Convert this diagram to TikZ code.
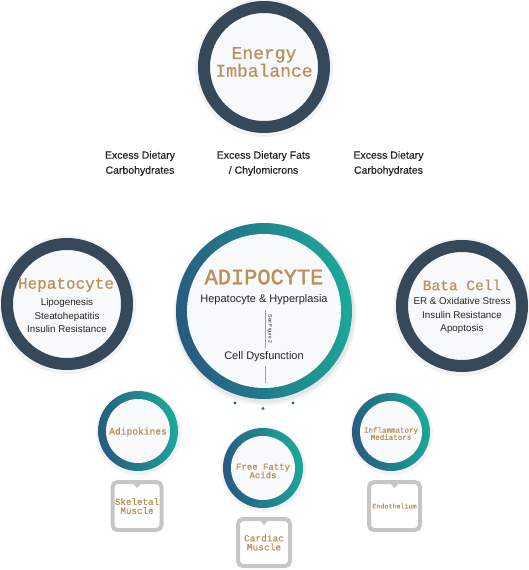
\documentclass[tikz,border=0pt]{standalone}
\usepackage{fontspec}
\setmainfont{Liberation Sans}
\newfontfamily\monof[FakeBold=0.6]{Liberation Mono}
\newfontfamily\monobf[FakeBold=1.6]{Liberation Mono}
\newfontfamily\sansmed[FakeBold=0.5]{Liberation Sans}
\definecolor{ringdark}{HTML}{36495A}
\definecolor{gold}{HTML}{B8905A}
\definecolor{gblue}{HTML}{285A80}
\definecolor{gteal}{HTML}{1BA99A}
\definecolor{innerc}{HTML}{F8F9FB}
\definecolor{txt}{HTML}{252525}
\definecolor{boxgray}{HTML}{C6C6C6}
\definecolor{dotc}{HTML}{2A6F8F}
\definecolor{linec}{HTML}{A0A0A0}
\tikzset{
  halo/.style={fill=black, opacity=0.05},
  darkring/.style={circle, draw=ringdark, line width=12pt, fill=innerc, inner sep=0pt},
  innerdisc/.style={circle, fill=innerc, inner sep=0pt},
  gold/.style={text=gold, align=center, inner sep=0pt},
  sanstxt/.style={text=txt, align=center, inner sep=0pt},
  callout/.style={draw=boxgray, line width=4pt, rounded corners=5pt, fill=white, inner sep=0pt, text=gold, align=center},
  pointer/.style={fill=boxgray}
}
\begin{document}
\begin{tikzpicture}[x=1pt,y=-1pt]
\useasboundingbox (0,0) rectangle (529,570);

% ---------- Energy Imbalance ----------
\fill[halo] (264,68) circle (69);
\node[darkring, minimum size=120pt] (energy) at (264,67) {};
\node[gold, font=\monof\fontsize{18}{15}\selectfont] (energytxt) at (264,62) {Energy\\Imbalance};

% ---------- Excess labels ----------
\node[sanstxt, font=\sansmed\fontsize{10.5}{15}\selectfont] (exL) at (140,163.5) {Excess Dietary\\Carbohydrates};
\node[sanstxt, font=\sansmed\fontsize{10.5}{15}\selectfont] (exM) at (263.5,163.5) {Excess Dietary Fats\\/ Chylomicrons};
\node[sanstxt, font=\sansmed\fontsize{10.5}{15}\selectfont] (exR) at (388.5,163.5) {Excess Dietary\\Carbohydrates};

% ---------- Hepatocyte ----------
\fill[halo] (67,305) circle (69);
\node[darkring, minimum size=120pt] (hepa) at (67,304) {};
\node[gold, font=\monof\fontsize{16}{16}\selectfont] (hepatitle) at (66,285) {Hepatocyte};
\node[sanstxt, font=\fontsize{9.8}{13.5}\selectfont] (hepatxt) at (67,315.5) {Lipogenesis\\Steatohepatitis\\Insulin Resistance};

% ---------- Bata Cell ----------
\fill[halo] (462,307) circle (69);
\node[darkring, minimum size=120pt] (bata) at (462,306) {};
\node[gold, font=\monof\fontsize{14.5}{15}\selectfont] (batatitle) at (462,285) {Bata Cell};
\node[sanstxt, font=\fontsize{9.8}{13.5}\selectfont] (batatxt) at (462,315.5) {ER \& Oxidative Stress\\Insulin Resistance\\Apoptosis};

% ---------- Adipocyte ----------
\fill[halo] (265,314) circle (91);
\fill[halo] (265,313) circle (89.5);
\shade[left color=gblue, right color=gteal, shading angle=100] (264,311) circle (88);
\node[innerdisc, minimum size=154pt] (adipo) at (264,311) {};
\node[gold, font=\monobf\fontsize{22}{22}\selectfont] (adipotitle) at (264,277) {ADIPOCYTE};
\node[sanstxt, font=\fontsize{11}{13}\selectfont] (adipo1) at (264,300) {Hepatocyte \& Hyperplasia};
\node[sanstxt, font=\fontsize{11}{13}\selectfont] (adipo2) at (264,357) {Cell Dysfunction};
\coordinate (l1a) at (265,310);
\coordinate (l1b) at (265,348);
\coordinate (l2a) at (265,366);
\coordinate (l2b) at (265,383);
\draw[linec, line width=0.5pt] (l1a) -- (l1b);
\draw[linec, line width=0.5pt] (l2a) -- (l2b);
\node[sanstxt, rotate=-90, font=\fontsize{5}{5}\selectfont] (seefig) at (270,329) {See Figure 2};
\fill[dotc] (235,403) circle (1.6);
\fill[dotc] (263,408.5) circle (1.6);
\fill[dotc] (293,403) circle (1.6);

% ---------- Adipokines ----------
\fill[halo] (138.5,432.5) circle (42.5);
\shade[left color=gblue, right color=gteal, shading angle=100] (138,431) circle (40);
\node[innerdisc, minimum size=64pt] (adipok) at (138,431) {};
\node[gold, font=\monof\fontsize{9.6}{9}\selectfont] (adipoktxt) at (138,432) {Adipokines};

% ---------- Free Fatty Acids ----------
\fill[halo] (263.5,469.5) circle (42.5);
\shade[left color=gblue, right color=gteal, shading angle=100] (263,468) circle (40);
\node[innerdisc, minimum size=64pt] (ffa) at (263,468) {};
\node[gold, font=\monof\fontsize{9}{8.5}\selectfont] (ffatxt) at (263,471) {Free Fatty\\Acids};

% ---------- Inflammatory Mediators ----------
\fill[halo] (391.5,433.5) circle (41.5);
\shade[left color=gblue, right color=gteal, shading angle=100] (391,432) circle (39);
\node[innerdisc, minimum size=62pt] (infl) at (391,432) {};
\node[gold, font=\monof\fontsize{7.5}{7.2}\selectfont] (infltxt) at (391,433.5) {Inflammatory\\Mediators};

% ---------- Callout boxes ----------
\node[callout, minimum width=49pt, minimum height=48pt, font=\monof\fontsize{9.2}{9}\selectfont] (skel) at (137,506) {Skeletal\\Muscle};
\fill[pointer] ([xshift=-5.5pt,yshift=-2pt]skel.north) -- ([yshift=-8pt]skel.north) -- ([xshift=5.5pt,yshift=-2pt]skel.north) -- cycle;

\node[callout, minimum width=52pt, minimum height=47pt, font=\monof\fontsize{9.5}{9}\selectfont] (card) at (264,542.5) {Cardiac\\Muscle};
\fill[pointer] ([xshift=-5.5pt,yshift=-2pt]card.north) -- ([yshift=-8pt]card.north) -- ([xshift=5.5pt,yshift=-2pt]card.north) -- cycle;

\node[callout, minimum width=51pt, minimum height=48pt, font=\monof\fontsize{6.7}{7}\selectfont] (endo) at (394.5,506) {Endothelium};
\fill[pointer] ([xshift=-5.5pt,yshift=-2pt]endo.north) -- ([yshift=-8pt]endo.north) -- ([xshift=5.5pt,yshift=-2pt]endo.north) -- cycle;
\end{tikzpicture}
\end{document}
